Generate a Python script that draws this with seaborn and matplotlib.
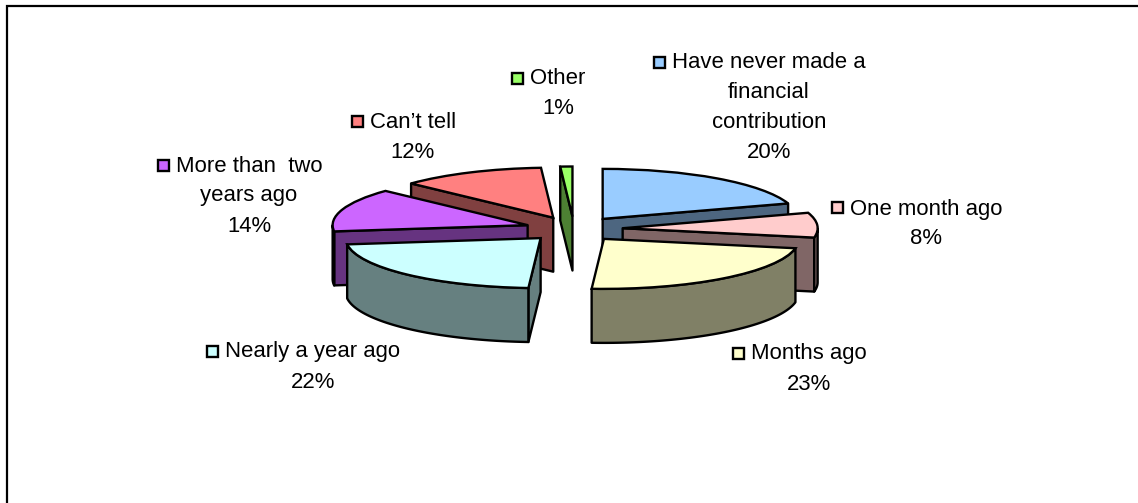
import numpy as np
import matplotlib
matplotlib.use("Agg")
import matplotlib.pyplot as plt
from matplotlib.patches import Polygon, Rectangle
import seaborn as sns

categories = ["Have never made a\nfinancial\ncontribution", "One month ago", "Months ago",
              "Nearly a year ago", "More than  two\nyears ago", "Can\u2019t tell", "Other"]
values = [20, 8, 23, 22, 14, 12, 1]
top_colors = ["#99CCFF", "#FFCCCC", "#FFFFCC", "#CCFFFF", "#CC66FF", "#FF8080", "#99FF66"]
# label anchor: text centre x, first-line centre y (pixels of the reference)
label_x = [769, 926, 809, 313, 249, 413, 558]
label_y = [63, 209, 354, 352, 166, 122, 79]

W, H = 1138, 503
CX, CY, RX, RY = 574, 229, 195, 50
EXPLODE = 0.25
DEPTH = 54 / RY
LW = 1.7

sns.set_theme(style="white")
plt.rcParams["font.family"] = ["Liberation Sans", "DejaVu Sans"]
FS = 15.9
LINE = 30

fig = plt.figure(figsize=(W / 100, H / 100), dpi=100, facecolor="white")
ax = fig.add_axes([0, 0, 1, 1])
palette = sns.color_palette(top_colors)

wedges, _ = ax.pie(values, colors=palette, explode=[EXPLODE] * len(values), startangle=90,
                   counterclock=False, radius=1,
                   wedgeprops=dict(edgecolor="black", linewidth=LW))
ax.set_aspect("auto")
ax.set_xlim(-CX / RX, (W - CX) / RX)
ax.set_ylim((CY - H) / RY, CY / RY)
ax.axis("off")

def edge(w, deg):
    a = np.deg2rad(deg)
    return w.center[0] + w.r * np.cos(a), w.center[1] + w.r * np.sin(a)

def face(pts, color, z):
    pts = np.asarray(pts)
    low = pts[::-1] - [0, DEPTH]
    ax.add_patch(Polygon(np.vstack([pts, low]), closed=True, facecolor=color,
                         edgecolor="black", linewidth=LW, joinstyle="round", zorder=z))

# painter's order: slices further back are drawn first
mids = [0.5 * (w.theta1 + w.theta2) for w in wedges]
order = np.argsort(np.sin(np.deg2rad(mids)))[::-1]
for rank, i in enumerate(order):
    w = wedges[i]
    dark = tuple(c * 0.5 for c in palette[i])
    z = 10 + rank * 3
    for ang, normal in ((w.theta1, w.theta1 - 90), (w.theta2, w.theta2 + 90)):
        if np.sin(np.deg2rad(normal)) < -1e-6:
            face([w.center, edge(w, ang)], dark, z)
    # outer rim, only its part that faces the viewer
    ths = np.linspace(w.theta1, w.theta2, 80)
    vis = ths[np.sin(np.deg2rad(ths)) < 0]
    if len(vis) > 1:
        face([edge(w, a) for a in vis], dark, z + 1)
    w.set_zorder(z + 2)

def fx(x):
    return x / W

def fy(y):
    return 1 - y / H

renderer = fig.canvas.get_renderer()
for name, v, c, x, y in zip(categories, values, palette, label_x, label_y):
    lines = name.split("\n") + [f"{v}%"]
    first = None
    for k, line in enumerate(lines):
        t = fig.text(fx(x), fy(y + k * LINE), line, ha="center", va="center",
                     fontsize=FS, color="black", zorder=50)
        first = first or t
    bb = first.get_window_extent(renderer)
    fig.add_artist(Rectangle((fx(bb.x0 - 18), fy(y + 4.5)), 11 / W, 11 / H, transform=fig.transFigure,
                             facecolor=c, edgecolor="black", linewidth=LW, zorder=50))

fig.add_artist(Rectangle((fx(6.5), fy(H + 5)), 2000 / W, (H + 5 - 5.5) / H, transform=fig.transFigure,
                         facecolor="none", edgecolor="black", linewidth=1.6, zorder=60))
fig.savefig("out.png", dpi=100)
